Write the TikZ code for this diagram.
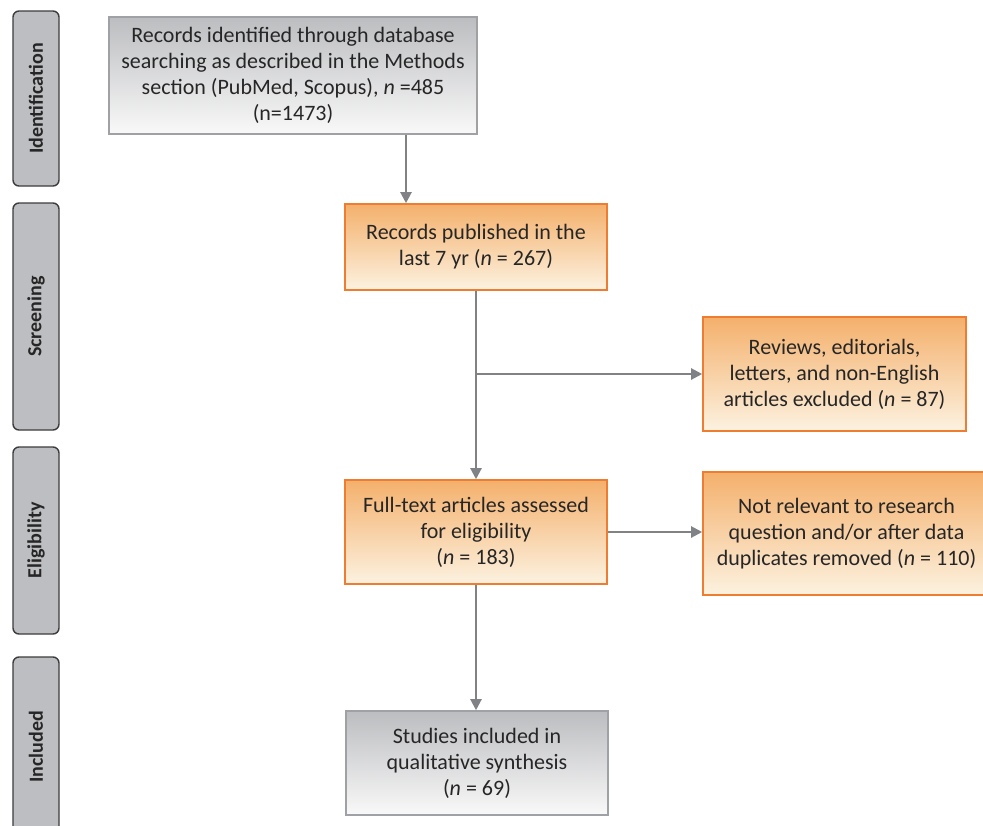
\documentclass[tikz,border=0pt]{standalone}
\usepackage{fontspec}
\setmainfont{Carlito}
\usetikzlibrary{arrows.meta}
\definecolor{tabgray}{RGB}{189,190,193}
\definecolor{tabline}{RGB}{60,60,60}
\definecolor{grtop}{RGB}{188,189,192}
\definecolor{grbot}{RGB}{249,249,249}
\definecolor{grline}{RGB}{160,161,164}
\definecolor{ortop}{RGB}{244,176,108}
\definecolor{orbot}{RGB}{252,242,224}
\definecolor{orline}{RGB}{238,125,49}
\definecolor{arrgray}{RGB}{128,130,134}
\definecolor{txt}{RGB}{38,38,38}

\begin{document}
\begin{tikzpicture}[x=1pt, y=-1pt,
    stage/.style={rectangle, rounded corners=6pt, draw=tabline, line width=1.4pt, fill=tabgray, rotate=90, minimum height=46pt, inner sep=0pt, font=\fontsize{20}{24}\selectfont\bfseries, text=txt},
    graybox/.style={rectangle, draw=grline, line width=1.6pt, top color=grtop, bottom color=grbot, align=center, inner sep=0pt, font=\fontsize{22}{26}\selectfont, text=txt},
    orangebox/.style={graybox, draw=orline, top color=ortop, bottom color=orbot},
    flow/.style={draw=arrgray, line width=2.2pt, -{Triangle[length=11pt,width=11pt]}}
]
    \clip (0,0) rectangle (983,825);

    % Stage tabs on the left
    \node[stage, minimum width=175pt] (ident) at (36, 98.5) {Identification};
    \node[stage, minimum width=227pt] (screen) at (36, 316.5) {Screening};
    \node[stage, minimum width=187pt] (elig) at (36, 540.5) {Eligibility};
    \node[stage, minimum width=180pt] (incl) at (36, 747) {Included};

    % Flow boxes
    \node[graybox, minimum width=368pt, minimum height=117pt] (search) at (293, 75.5)
        {Records identified through database\\searching as described in the Methods\\section (PubMed, Scopus), \textit{n} =485\\(n=1473)};
    \node[orangebox, minimum width=262pt, minimum height=86pt] (recent) at (476, 247)
        {Records published in the\\last 7 yr (\textit{n} = 267)};
    \node[orangebox, minimum width=263pt, minimum height=114pt] (reviews) at (834.5, 374)
        {Reviews, editorials,\\letters, and non-English\\articles excluded (\textit{n} = 87)};
    \node[orangebox, minimum width=262pt, minimum height=104pt] (fulltext) at (476, 532)
        {Full-text articles assessed\\for eligibility\\(\textit{n} = 183)};
    \node[orangebox, minimum width=287pt, minimum height=123pt] (notrel) at (846.5, 533.5)
        {Not relevant to research\\question and/or after data\\duplicates removed (\textit{n} = 110)};
    \node[graybox, minimum width=262pt, minimum height=104pt] (final) at (477, 763)
        {Studies included in\\qualitative synthesis\\(\textit{n} = 69)};

    % Connectors
    \draw[flow] ([xshift=113pt]search.south) -- ([xshift=-70pt]recent.north);
    \draw[flow] (recent.south) -- (fulltext.north);
    \draw[flow] (recent.south |- reviews.west) -- (reviews.west);
    \draw[flow] (fulltext.east) -- (fulltext.east -| notrel.west);
    \draw[flow] (fulltext.south) -- (fulltext.south |- final.north);
\end{tikzpicture}
\end{document}
